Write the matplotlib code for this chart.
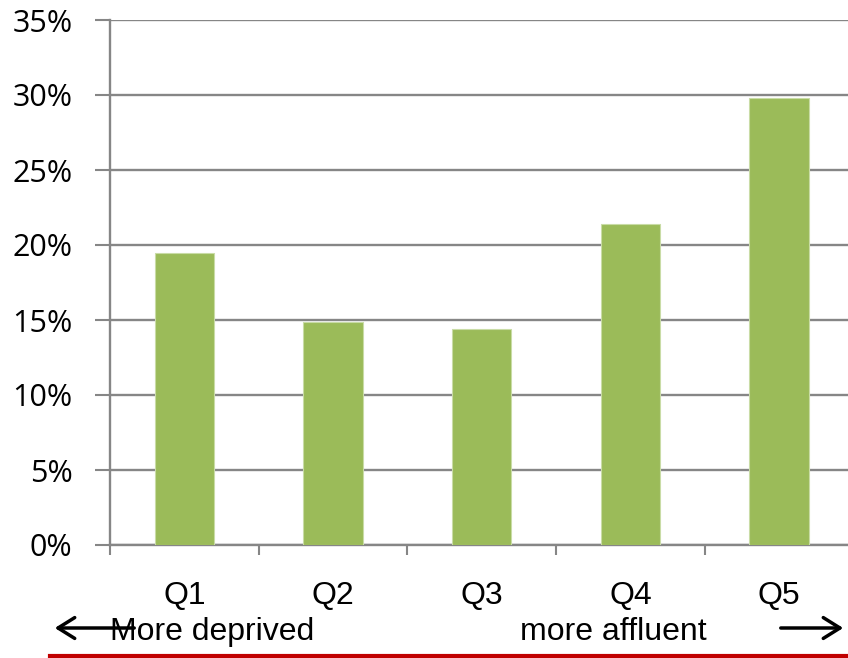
import matplotlib
matplotlib.use("Agg")
import matplotlib.pyplot as plt
from matplotlib import font_manager as fm
from matplotlib.ticker import FuncFormatter, FixedLocator

categories = ["Q1", "Q2", "Q3", "Q4", "Q5"]
values = [19.5, 14.9, 14.4, 21.4, 29.8]
y_ticks = [0, 5, 10, 15, 20, 25, 30, 35]

names = {f.name for f in fm.fontManager.ttflist}
narrow = "Liberation Sans Narrow" if "Liberation Sans Narrow" in names else "Liberation Sans"

W, H = 848, 658
fig = plt.figure(figsize=(W / 100, H / 100), dpi=100)
cat_w = 148.7
x0 = 110
ax = fig.add_axes([x0 / W, (H - 545) / H, (5 * cat_w) / W, (545 - 20) / H])

x = list(range(len(categories)))
ax.bar(x, values, width=0.4, color="#9BBB59", edgecolor="#c9dca6", linewidth=0.8, zorder=3)
ax.set_xlim(-0.5, 4.5)
ax.set_ylim(0, 35)
ax.yaxis.set_major_locator(FixedLocator(y_ticks))
ax.yaxis.set_major_formatter(FuncFormatter(lambda v, p: f"{v:.0f}%"))
ax.grid(axis="y", color="#868686", linewidth=1.7, zorder=0)
for s in ["top", "right"]:
    ax.spines[s].set_visible(False)
ax.spines["left"].set_color("#868686")
ax.spines["left"].set_linewidth(1.7)
ax.spines["bottom"].set_color("#868686")
ax.spines["bottom"].set_linewidth(1.7)

ax.set_xticks(x)
ax.set_xticklabels(categories, fontfamily=narrow, fontsize=23)
ax.tick_params(axis="x", length=0, pad=26)
ax.xaxis.set_minor_locator(FixedLocator([-0.5, 0.5, 1.5, 2.5, 3.5]))
ax.tick_params(axis="x", which="minor", length=7, width=1.5, color="#868686", direction="out")
ax.tick_params(axis="y", length=11, width=1.5, color="#868686", pad=16)
for lab in ax.get_yticklabels():
    lab.set_fontfamily("Open Sans")
    lab.set_fontsize(22)

# bottom annotations
fig.text(110 / W, 1 - 632 / H, "More deprived", fontfamily=narrow, fontsize=23,
         ha="left", va="center")
fig.text(520 / W, 1 - 632 / H, "more affluent", fontfamily=narrow, fontsize=23,
         ha="left", va="center")
fig.add_artist(matplotlib.patches.FancyArrowPatch(
    (137 / W, 1 - 628 / H), (52 / W, 1 - 628 / H), transform=fig.transFigure,
    arrowstyle="->,head_length=8,head_width=5", color="black", linewidth=2.5,
    mutation_scale=1.5))
fig.add_artist(matplotlib.patches.FancyArrowPatch(
    (778 / W, 1 - 628 / H), (846 / W, 1 - 628 / H), transform=fig.transFigure,
    arrowstyle="->,head_length=8,head_width=5", color="black", linewidth=2.5,
    mutation_scale=1.5))
fig.add_artist(matplotlib.lines.Line2D([50 / W, 1.0], [1 - 656 / H, 1 - 656 / H],
                                       transform=fig.transFigure, color="#C00000", linewidth=3))

fig.savefig("out.png", dpi=100)
